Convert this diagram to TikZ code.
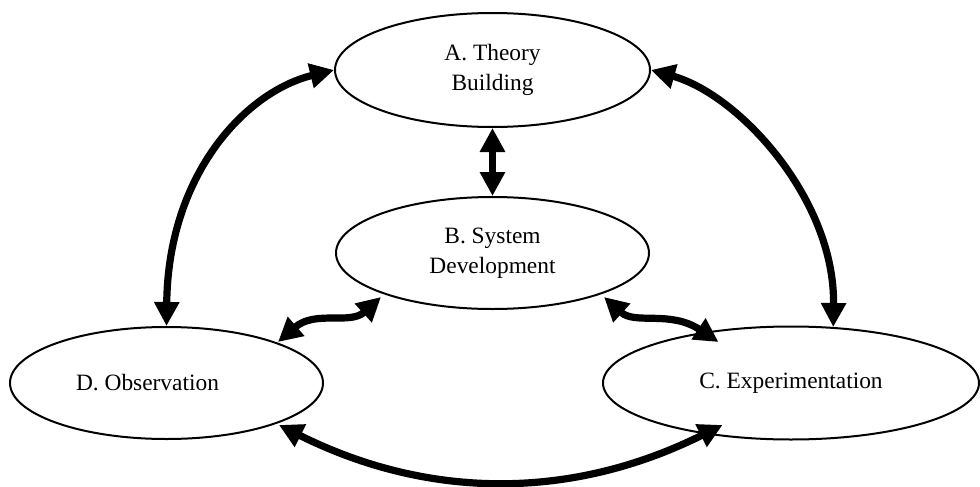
\documentclass[tikz,border=0pt]{standalone}
\usepackage{fontspec}
\newfontfamily\timesfont{Liberation Serif}
\usetikzlibrary{shapes.geometric,arrows.meta,calc}

\begin{document}
\begin{tikzpicture}[x=0.5pt,y=-0.5pt,
    stage/.style={draw,ellipse,line width=1pt,inner sep=0pt,minimum width=156.5pt,minimum height=56pt,
      align=center,font=\timesfont\fontsize{11.7pt}{15pt}\selectfont},
    link/.style={line width=3.6pt,{Triangle[length=12pt,width=12pt]}-{Triangle[length=12pt,width=12pt]}}]
    \useasboundingbox (0,0) rectangle (980,487);
    \node[stage,minimum width=157.5pt,minimum height=57pt] (A) at (492.5,70) {A. Theory\\Building};
    \node[stage] (B) at (492.5,253) {B. System\\Development};
    \node[stage] (D) at (166.5,383) {D. Observation\hspace*{19pt}};
    \node[stage,minimum width=188pt,minimum height=56.5pt] (C) at (791,383) {C. Experimentation};
    \draw[link] (A.west) .. controls (245,92) and (168,175) .. (D.north);
    \draw[link] (A.east) .. controls (740,95) and (835,200) .. (C.53);
    \draw[link] (A.south) -- (B.north);
    \draw[link] ($(B)+(-111.5,44)$) .. controls (350,325) and (315,310) .. ($(D)+(111.5,-41)$);
    \draw[link] ($(B)+(111.5,44)$) .. controls (635,325) and (670,310) .. ($(C)+(-72.5,-41)$);
    \draw[link] ($(D)+(112.5,42)$) .. controls (429,500) and (572,500) .. ($(C)+(-68.5,42)$);
\end{tikzpicture}
\end{document}
